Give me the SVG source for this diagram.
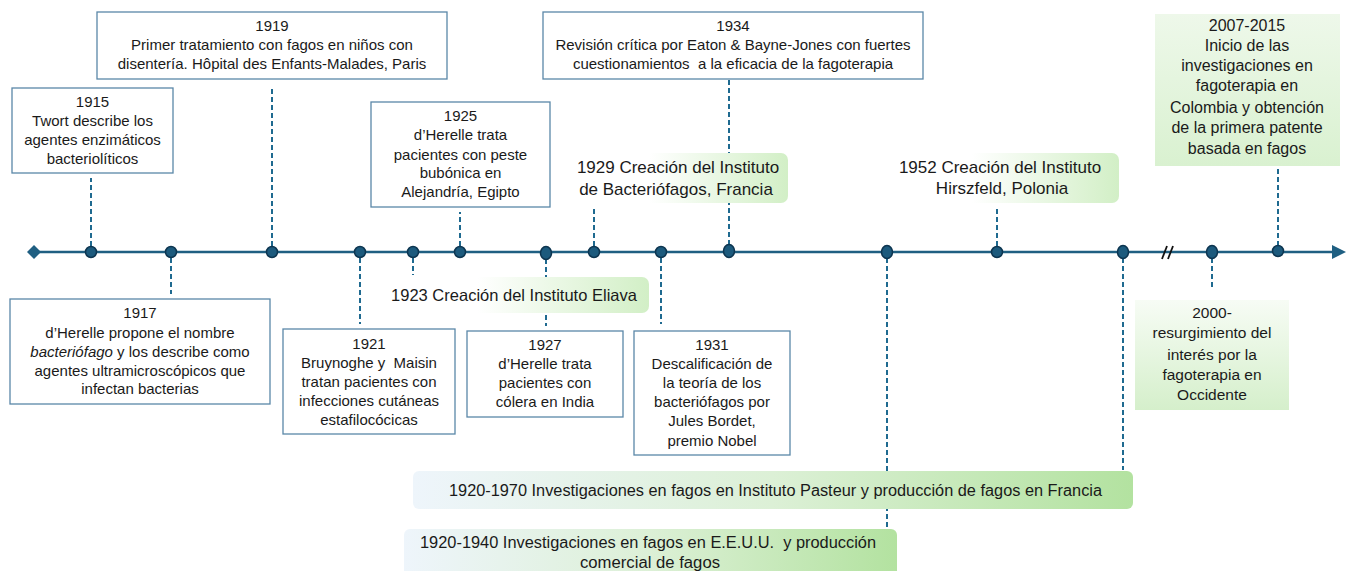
<svg xmlns="http://www.w3.org/2000/svg" width="1347" height="571" viewBox="0 0 1347 571">
<style>
.box{fill:#ffffff;stroke:#5a87a8;stroke-width:1.3}
.t{font-family:"Liberation Sans",Arial,sans-serif;font-size:15px;fill:#1a1a1a;text-anchor:middle}
.g{font-size:17px}
.pre{white-space:pre}
.dash{stroke:#1f6a90;stroke-width:2;stroke-dasharray:5 3;fill:none}
.dot{fill:#1c5a7d;stroke:#0d3550;stroke-width:1.5}
</style>
<defs>
<linearGradient id="gh" x1="0" y1="0" x2="1" y2="0">
<stop offset="0" stop-color="#ffffff"/>
<stop offset="0.35" stop-color="#ffffff"/>
<stop offset="1" stop-color="#d2efc6"/>
</linearGradient>
<linearGradient id="gv" x1="0" y1="0" x2="0" y2="1">
<stop offset="0" stop-color="#eef8ea"/>
<stop offset="1" stop-color="#d9f1d0"/>
</linearGradient>
<linearGradient id="gv2" x1="0" y1="0" x2="0" y2="1">
<stop offset="0" stop-color="#f7fcf5"/>
<stop offset="1" stop-color="#d5efcb"/>
</linearGradient>
<linearGradient id="gb" x1="0" y1="0" x2="1" y2="0">
<stop offset="0" stop-color="#eef5fb"/>
<stop offset="0.5" stop-color="#dcf0d6"/>
<stop offset="1" stop-color="#b3e2a0"/>
</linearGradient>
</defs>

<g id="connectors">
<line class="dash" x1="91" y1="246" x2="91" y2="178"/>
<line class="dash" x1="171" y1="258" x2="171" y2="294"/>
<line class="dash" x1="272" y1="246" x2="272" y2="88"/>
<line class="dash" x1="360" y1="258" x2="360" y2="324"/>
<line class="dash" x1="413" y1="258" x2="413" y2="275"/>
<line class="dash" x1="460" y1="246" x2="460" y2="212"/>
<line class="dash" x1="546" y1="259" x2="546" y2="326"/>
<line class="dash" x1="594" y1="246" x2="594" y2="207"/>
<line class="dash" x1="661" y1="258" x2="661" y2="324"/>
<line class="dash" x1="729" y1="245" x2="729" y2="80"/>
<line class="dash" x1="887" y1="258" x2="887" y2="529"/>
<line class="dash" x1="997" y1="246" x2="997" y2="206"/>
<line class="dash" x1="1123" y1="258" x2="1123" y2="470"/>
<line class="dash" x1="1212" y1="258" x2="1212" y2="288"/>
<line class="dash" x1="1278" y1="246" x2="1278" y2="168"/>
</g>

<g id="axis">
<line x1="34" y1="252" x2="1334" y2="252" stroke="#1f5f82" stroke-width="2.5"/>
<polygon points="1332,245 1346,252 1332,259" fill="#1f5f82"/>
<polygon points="34,245 41,252 34,259 27,252" fill="#1f5f82"/>
<line x1="1162" y1="259" x2="1167" y2="246" stroke="#111" stroke-width="1.8"/>
<line x1="1168" y1="259" x2="1173" y2="246" stroke="#111" stroke-width="1.8"/>
<circle class="dot" cx="91" cy="252" r="5.5"/>
<circle class="dot" cx="171" cy="252" r="5.5"/>
<circle class="dot" cx="272" cy="252" r="5.5"/>
<circle class="dot" cx="360" cy="252" r="5.5"/>
<circle class="dot" cx="413" cy="252" r="5.5"/>
<circle class="dot" cx="460" cy="252" r="5.5"/>
<ellipse class="dot" cx="546" cy="253" rx="5.5" ry="6.5"/>
<circle class="dot" cx="594" cy="252" r="5.5"/>
<circle class="dot" cx="661" cy="252" r="5.5"/>
<ellipse class="dot" cx="729" cy="251" rx="5.5" ry="6.5"/>
<ellipse class="dot" cx="887" cy="252" rx="5.5" ry="6.5"/>
<circle class="dot" cx="997" cy="252" r="5.5"/>
<ellipse class="dot" cx="1123" cy="252" rx="5.5" ry="6.5"/>
<ellipse class="dot" cx="1212" cy="252" rx="5.5" ry="6.5"/>
<circle class="dot" cx="1278" cy="251" r="5.5"/>
</g>

<g id="n1915">
<rect class="box" x="12" y="88" width="161" height="85"/>
<text class="t" x="92.5" y="107">1915</text>
<text class="t" x="92.5" y="126">Twort describe los</text>
<text class="t" x="92.5" y="145">agentes enzimáticos</text>
<text class="t" x="92.5" y="164">bacteriolíticos</text>
</g>

<g id="n1919">
<rect class="box" x="97" y="12" width="350" height="67"/>
<text class="t" x="272" y="31">1919</text>
<text class="t" x="272" y="50">Primer tratamiento con fagos en niños con</text>
<text class="t" x="272" y="69">disentería. Hôpital des Enfants-Malades, Paris</text>
</g>

<g id="n1925">
<rect class="box" x="371" y="102" width="179" height="105"/>
<text class="t" x="460.5" y="121">1925</text>
<text class="t" x="460.5" y="140">d’Herelle trata</text>
<text class="t" x="460.5" y="160">pacientes con peste</text>
<text class="t" x="460.5" y="178">bubónica en</text>
<text class="t" x="460.5" y="197">Alejandría, Egipto</text>
</g>

<g id="n1934">
<rect class="box" x="543" y="12" width="380" height="67"/>
<text class="t" x="733" y="31">1934</text>
<text class="t" x="733" y="50">Revisión crítica por Eaton &amp; Bayne-Jones con fuertes</text>
<text class="t pre" x="733" y="69">cuestionamientos  a la eficacia de la fagoterapia</text>
</g>

<g id="n1929">
<rect x="575" y="153" width="213" height="50" rx="7" fill="url(#gh)"/>
<text class="t g" x="678" y="173">1929 Creación del Instituto</text>
<text class="t g" x="676" y="195">de Bacteriófagos, Francia</text>
</g>

<g id="n1952">
<rect x="893" y="153" width="226" height="50" rx="7" fill="url(#gh)"/>
<text class="t g" x="1000" y="173">1952 Creación del Instituto</text>
<text class="t g" x="1002" y="194">Hirszfeld, Polonia</text>
</g>

<g id="n2007">
<rect x="1155" y="14" width="185" height="152" fill="url(#gv)"/>
<text class="t" style="font-size:16px" x="1247" y="31">2007-2015</text>
<text class="t" style="font-size:16px" x="1247" y="51">Inicio de las</text>
<text class="t" style="font-size:16px" x="1247" y="71">investigaciones en</text>
<text class="t" style="font-size:16px" x="1247" y="91">fagoterapia en</text>
<text class="t" style="font-size:16px" x="1247" y="113">Colombia y obtención</text>
<text class="t" style="font-size:16px" x="1247" y="133">de la primera patente</text>
<text class="t" style="font-size:16px" x="1247" y="154">basada en fagos</text>
</g>

<g id="n1917">
<rect class="box" x="10" y="299" width="260" height="105"/>
<text class="t" x="140" y="318">1917</text>
<text class="t" x="140" y="338">d’Herelle propone el nombre</text>
<text class="t" x="140" y="357"><tspan font-style="italic">bacteriófago</tspan> y los describe como</text>
<text class="t" x="140" y="376">agentes ultramicroscópicos que</text>
<text class="t" x="140" y="394">infectan bacterias</text>
</g>

<g id="n1921">
<rect class="box" x="283" y="329" width="172" height="105"/>
<text class="t" x="369" y="349">1921</text>
<text class="t pre" x="369" y="368">Bruynoghe y  Maisin</text>
<text class="t" x="369" y="387">tratan pacientes con</text>
<text class="t" x="369" y="406">infecciones cutáneas</text>
<text class="t" x="369" y="425">estafilocócicas</text>
</g>

<g id="n1923">
<rect x="385" y="277" width="264" height="36" rx="7" fill="url(#gh)"/>
<text class="t" style="font-size:16.5px" x="514" y="301">1923 Creación del Instituto Eliava</text>
</g>

<g id="n1927">
<rect class="box" x="467" y="331" width="156" height="86"/>
<text class="t" x="545" y="350">1927</text>
<text class="t" x="545" y="369">d’Herelle trata</text>
<text class="t" x="545" y="388">pacientes con</text>
<text class="t" x="545" y="407">cólera en India</text>
</g>

<g id="n1931">
<rect class="box" x="634" y="331" width="156" height="124"/>
<text class="t" x="712" y="350">1931</text>
<text class="t" x="712" y="369">Descalificación de</text>
<text class="t" x="712" y="388">la teoría de los</text>
<text class="t" x="712" y="407">bacteriófagos por</text>
<text class="t" x="712" y="426">Jules Bordet,</text>
<text class="t" x="712" y="446">premio Nobel</text>
</g>

<g id="n2000">
<rect x="1135" y="300" width="154" height="110" fill="url(#gv2)"/>
<text class="t" style="font-size:15.5px" x="1212" y="318">2000-</text>
<text class="t" style="font-size:15.5px" x="1212" y="338">resurgimiento del</text>
<text class="t" style="font-size:15.5px" x="1212" y="360">interés por la</text>
<text class="t" style="font-size:15.5px" x="1212" y="380">fagoterapia en</text>
<text class="t" style="font-size:15.5px" x="1212" y="400">Occidente</text>
</g>

<g id="n1920-1970">
<rect x="413" y="471" width="720" height="38" rx="6" fill="url(#gb)"/>
<text class="t" style="font-size:16px" x="775.5" y="496" textLength="653" lengthAdjust="spacingAndGlyphs">1920-1970 Investigaciones en fagos en Instituto Pasteur y producción de fagos en Francia</text>
</g>

<g id="n1920-1940">
<rect x="404" y="529" width="493" height="52" rx="6" fill="url(#gb)"/>
<text class="t pre" style="font-size:16px" x="648" y="548" textLength="456" lengthAdjust="spacingAndGlyphs">1920-1940 Investigaciones en fagos en E.E.U.U.  y producción</text>
<text class="t" style="font-size:16px" x="650" y="568" textLength="140" lengthAdjust="spacingAndGlyphs">comercial de fagos</text>
</g>
</svg>
